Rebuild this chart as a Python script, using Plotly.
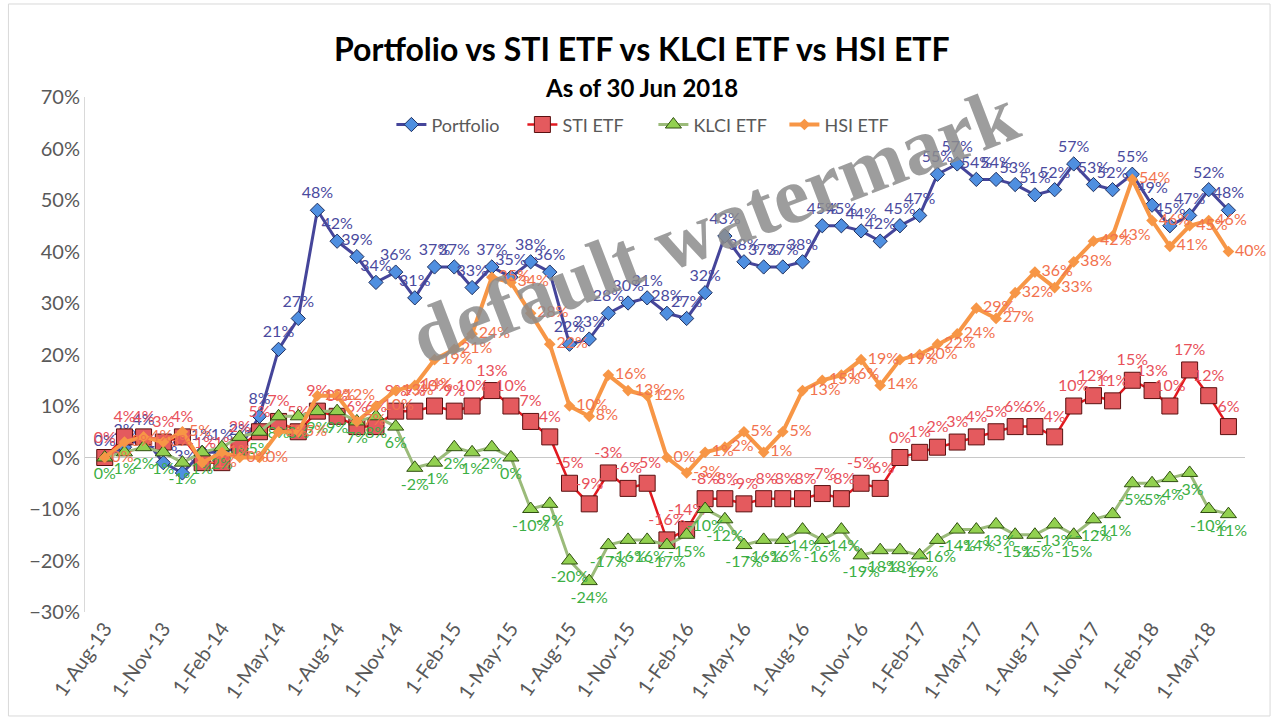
import plotly.graph_objects as go

months = [
    "2013-08-01", "2013-09-01", "2013-10-01", "2013-11-01", "2013-12-01",
    "2014-01-01", "2014-02-01", "2014-03-01", "2014-04-01", "2014-05-01", "2014-06-01",
    "2014-07-01", "2014-08-01", "2014-09-01", "2014-10-01", "2014-11-01", "2014-12-01",
    "2015-01-01", "2015-02-01", "2015-03-01", "2015-04-01", "2015-05-01", "2015-06-01",
    "2015-07-01", "2015-08-01", "2015-09-01", "2015-10-01", "2015-11-01", "2015-12-01",
    "2016-01-01", "2016-02-01", "2016-03-01", "2016-04-01", "2016-05-01", "2016-06-01",
    "2016-07-01", "2016-08-01", "2016-09-01", "2016-10-01", "2016-11-01", "2016-12-01",
    "2017-01-01", "2017-02-01", "2017-03-01", "2017-04-01", "2017-05-01", "2017-06-01",
    "2017-07-01", "2017-08-01", "2017-09-01", "2017-10-01", "2017-11-01", "2017-12-01",
    "2018-01-01", "2018-02-01", "2018-03-01", "2018-04-01", "2018-05-01", "2018-06-01",
]

portfolio = [0, 2, 4, -1, -3, 1, 1, 2, 8, 21, 27, 48,
             42, 39, 34, 36, 31, 37, 37, 33, 37, 35, 38, 36,
             22, 23, 28, 30, 31, 28, 27, 32, 43, 38, 37, 37,
             38, 45, 45, 44, 42, 45, 47, 55, 57, 54, 54, 53,
             51, 52, 57, 53, 52, 55, 49, 45, 47, 52, 48]
sti_etf = [0, 4, 4, 3, 4, -1, -1, 2, 5, 7, 5, 9,
           8, 6, 6, 9, 9, 10, 9, 10, 13, 10, 7, 4,
           -5, -9, -3, -6, -5, -16, -14, -8, -8, -9, -8, -8,
           -8, -7, -8, -5, -6, 0, 1, 2, 3, 4, 5, 6,
           6, 4, 10, 12, 11, 15, 13, 10, 17, 12, 6]
klci_etf = [0, 1, 2, 1, -1, 1, 2, 4, 5, 8, 8, 9,
            9, 7, 8, 6, -2, -1, 2, 1, 2, 0, -10, -9,
            -20, -24, -17, -16, -16, -17, -15, -10, -12, -17, -16, -16,
            -14, -16, -14, -19, -18, -18, -19, -16, -14, -14, -13, -15,
            -15, -13, -15, -12, -11, -5, -5, -4, -3, -10, -11]
hsi_etf = [0, 3, 4, 3, 5, -1, 1, 0, 0, 5, 5, 12,
           12, 7, 10, 13, 14, 19, 21, 24, 35, 34, 28, 22,
           10, 8, 16, 13, 12, 0, -3, 1, 2, 5, 1, 5,
           13, 15, 16, 19, 14, 19, 20, 22, 24, 29, 27, 32,
           36, 33, 38, 42, 43, 54, 46, 41, 45, 46, 40]

tick_vals = ["2013-08-01", "2013-11-01", "2014-02-01", "2014-05-01", "2014-08-01",
             "2014-11-01", "2015-02-01", "2015-05-01", "2015-08-01", "2015-11-01",
             "2016-02-01", "2016-05-01", "2016-08-01", "2016-11-01", "2017-02-01",
             "2017-05-01", "2017-08-01", "2017-11-01", "2018-02-01", "2018-05-01"]
tick_text = ["1-Aug-13", "1-Nov-13", "1-Feb-14", "1-May-14", "1-Aug-14",
             "1-Nov-14", "1-Feb-15", "1-May-15", "1-Aug-15", "1-Nov-15",
             "1-Feb-16", "1-May-16", "1-Aug-16", "1-Nov-16", "1-Feb-17",
             "1-May-17", "1-Aug-17", "1-Nov-17", "1-Feb-18", "1-May-18"]

FONT = "Lato"

series = [
    ("Portfolio", portfolio, dict(color="#45459A", width=3),
     dict(symbol="diamond", size=11, color="#4F8FE0", line=dict(color="#1F2F5F", width=1)),
     "top center", "#4A4A9E"),
    ("STI ETF", sti_etf, dict(color="#E2181F", width=2.5),
     dict(symbol="square", size=16, color="#E45A5E", line=dict(color="#5A1010", width=1)),
     "top center", "#E8505A"),
    ("KLCI ETF", klci_etf, dict(color="#9BBB7A", width=3),
     dict(symbol="triangle-up", size=14, color="#92D050", line=dict(color="#2F4F10", width=1)),
     "bottom center", "#3CAF45"),
    ("HSI ETF", hsi_etf, dict(color="#F79646", width=4),
     dict(symbol="diamond", size=9, color="#F79646", line=dict(color="#F79646", width=0)),
     "middle right", "#F2724E"),
]

fig = go.Figure()
for name, vals, line, marker, tpos, tcol in series:
    fig.add_trace(go.Scatter(
        x=months, y=[v / 100 for v in vals], name=name,
        mode="lines+markers+text", line=line, marker=marker,
        texttemplate="%{y:.0%}", textposition=tpos,
        textfont=dict(family=FONT, size=16, color=tcol),
        cliponaxis=False,
    ))

fig.update_layout(
    width=1278, height=726,
    margin=dict(l=85, r=33, t=97, b=114),
    paper_bgcolor="white", plot_bgcolor="white",
    font=dict(family=FONT, color="#595959"),
    showlegend=True,
    legend=dict(orientation="h", x=0.49, xanchor="center", y=0.946, yanchor="middle",
                font=dict(family=FONT, size=18, color="#595959"),
                entrywidth=86, entrywidthmode="pixels",
                bgcolor="rgba(0,0,0,0)"),
    xaxis=dict(type="date", range=["2013-07-01", "2018-06-27"],
               tickvals=tick_vals, ticktext=tick_text, tickangle=-55,
               tickfont=dict(family=FONT, size=20, color="#595959"),
               showgrid=False, showline=False, zeroline=False, ticks=""),
    yaxis=dict(range=[-0.30, 0.70], dtick=0.1, tickformat=".0%",
               tickfont=dict(family=FONT, size=20, color="#595959"),
               showgrid=False, showline=True, linecolor="#D9D9D9", linewidth=1,
               zeroline=True, zerolinecolor="#C8C8C8", zerolinewidth=1, ticks=""),
    annotations=[
        dict(text="<b>Portfolio vs STI ETF vs KLCI ETF vs HSI ETF</b>", x=0.48, y=1.095,
             xref="paper", yref="paper", showarrow=False, xanchor="center",
             font=dict(family=FONT, size=32, color="#000000"), yanchor="middle"),
        dict(text="<b>As of 30 Jun 2018</b>", x=0.48, y=1.019,
             xref="paper", yref="paper", showarrow=False, xanchor="center",
             font=dict(family=FONT, size=24, color="#000000"), yanchor="middle"),
        dict(text="<b>default watermark</b>", x=0.543, y=0.751,
             xref="paper", yref="paper", showarrow=False, textangle=-21,
             xanchor="center", yanchor="middle",
             font=dict(family="Liberation Serif", size=80, color="rgba(140,140,140,0.85)")),
    ],
    shapes=[dict(type="rect", xref="paper", yref="paper",
                 x0=-0.066, x1=1.0216, y0=-0.2019, y1=1.1806,
                 line=dict(color="#D9D9D9", width=1), fillcolor="rgba(0,0,0,0)", layer="below")],
)

fig.write_html("out.html", config={"displayModeBar": False},
               post_script="document.body.style.margin='0px';")
